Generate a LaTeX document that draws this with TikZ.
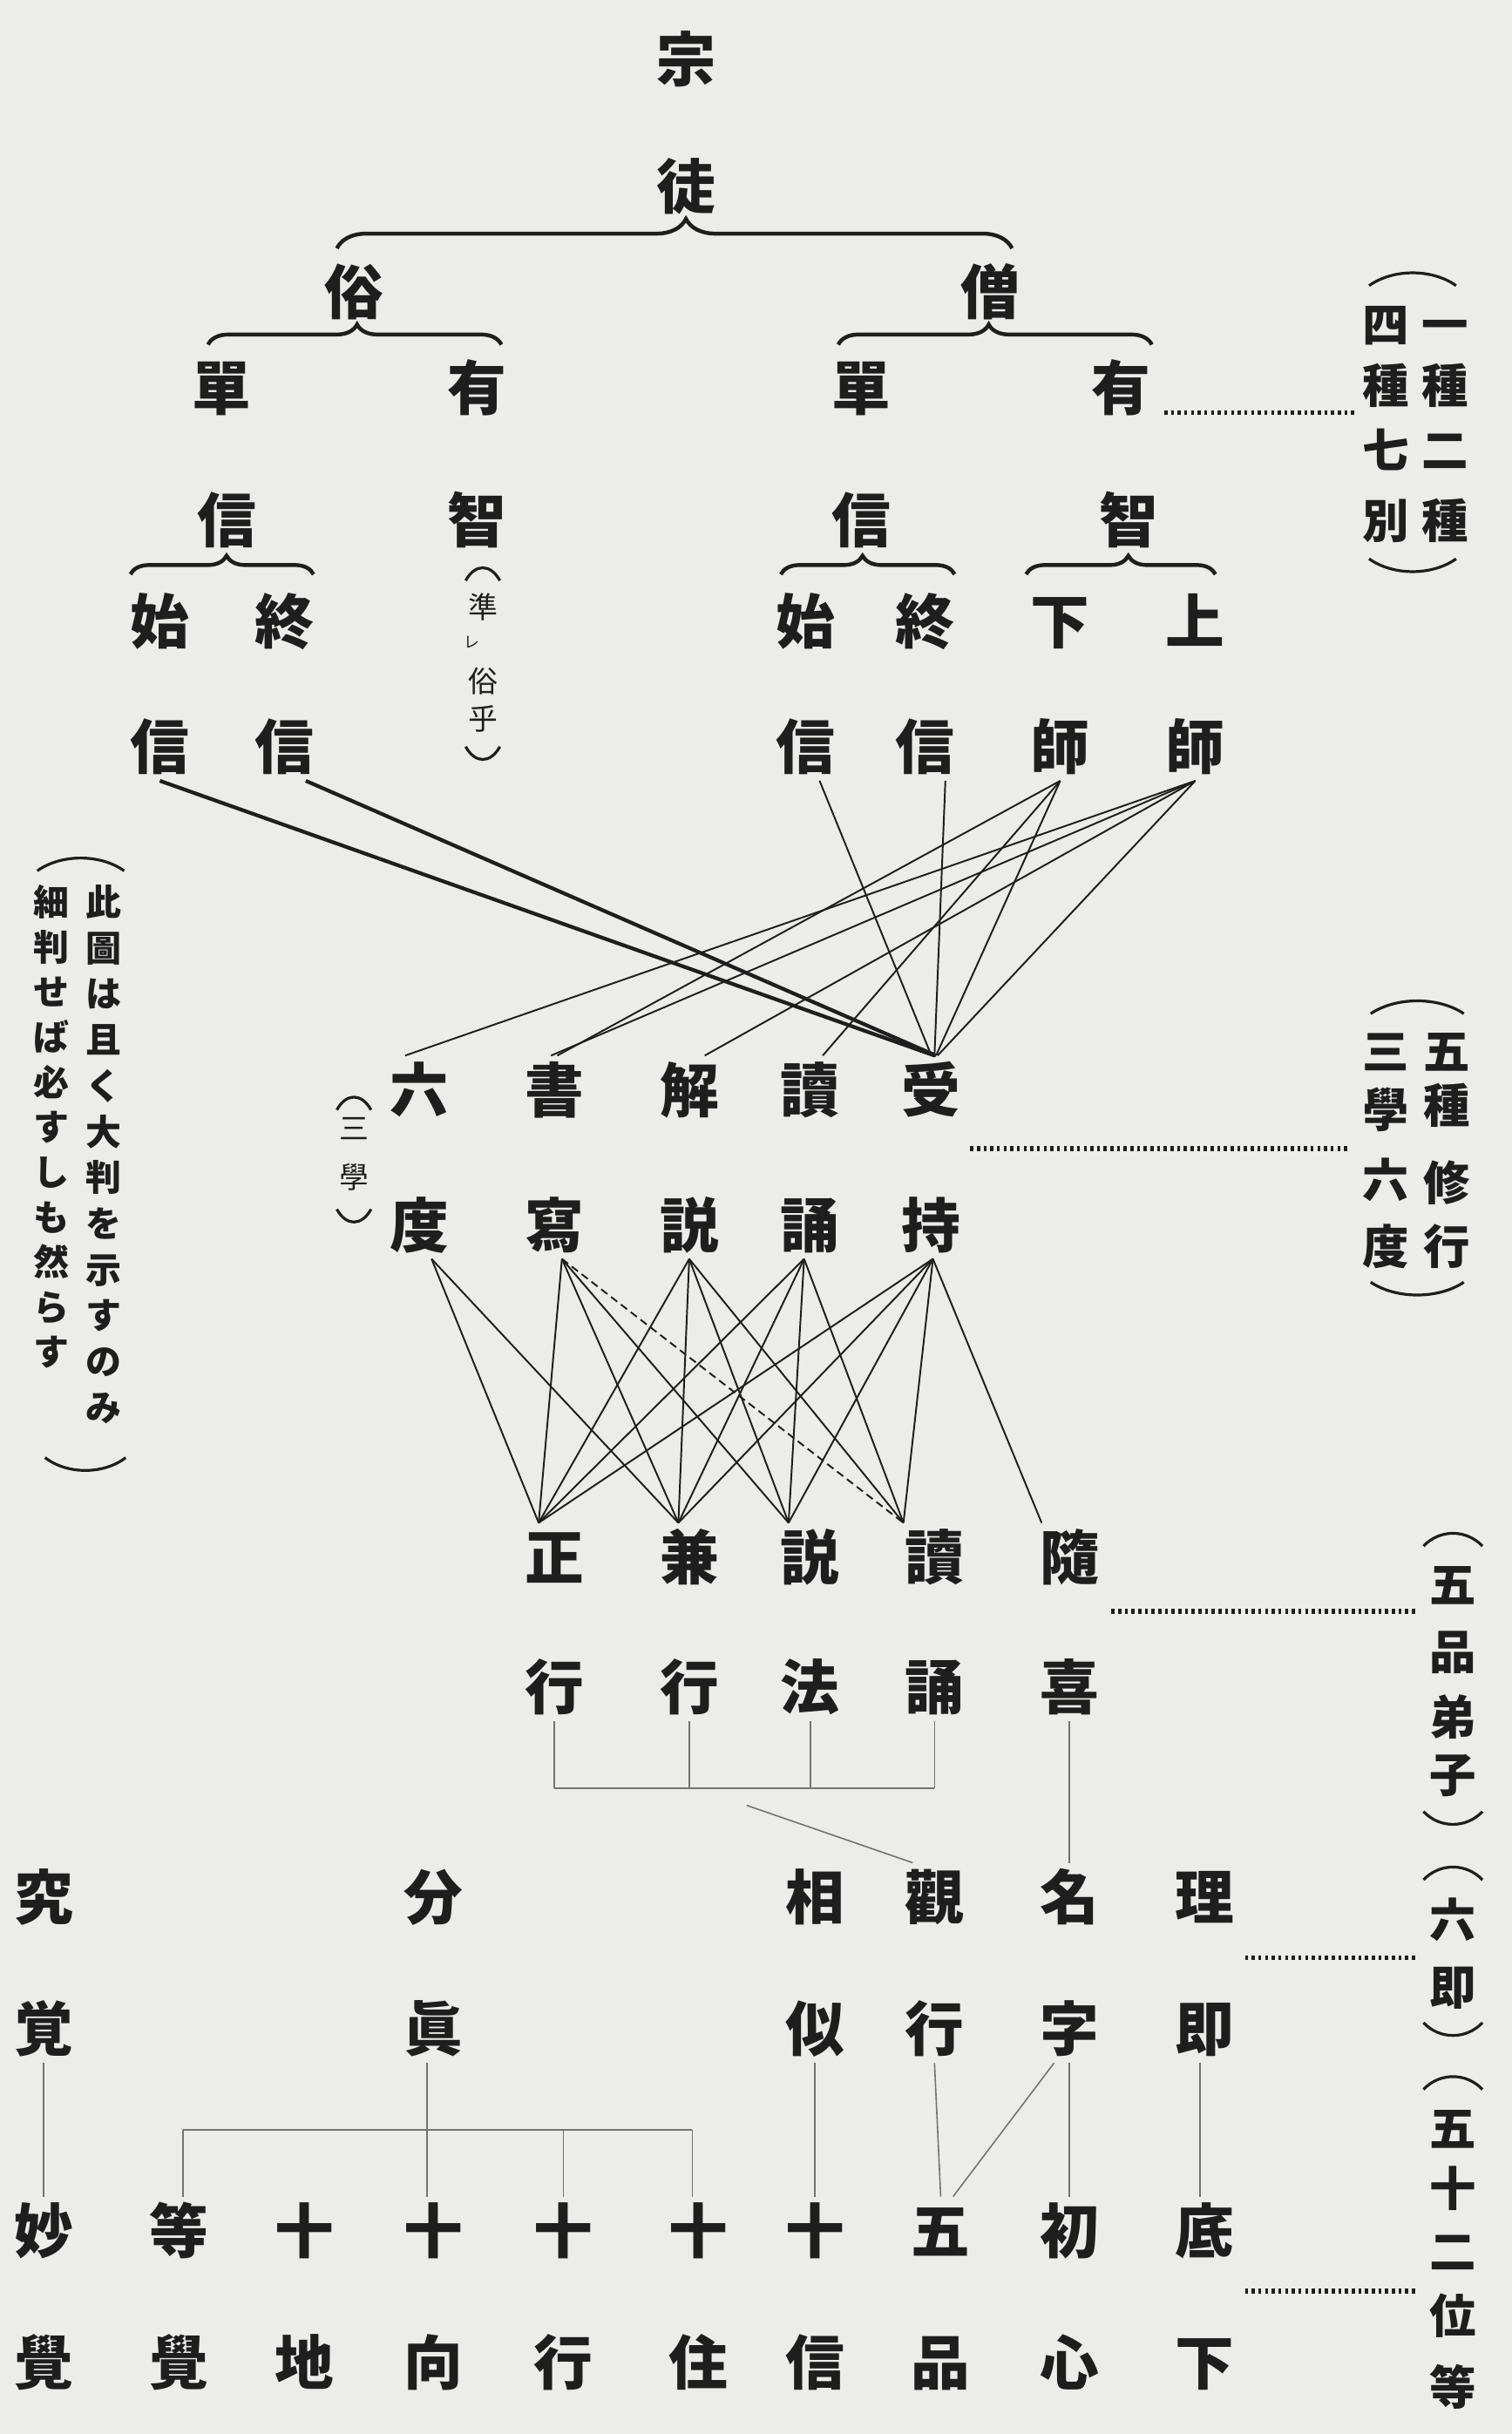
\documentclass[tikz,border=0pt]{standalone}
\usepackage{fontspec}
\newfontfamily\jp{Noto Sans CJK JP}
\usetikzlibrary{decorations.pathreplacing}
\definecolor{paper}{RGB}{236,236,234}
\definecolor{ink}{RGB}{30,30,30}
\definecolor{faint}{RGB}{115,115,115}
\newcommand\myparU[3]{\draw[paren] ({#1-#3},{#2+8}) .. controls ({#1-0.45*#3},{#2-3}) and ({#1+0.45*#3},{#2-3}) .. ({#1+#3},{#2+8});}
\newcommand\myparD[3]{\draw[paren] ({#1-#3},{#2-8}) .. controls ({#1-0.45*#3},{#2+3}) and ({#1+0.45*#3},{#2+3}) .. ({#1+#3},{#2-8});}
\begin{document}
\begin{tikzpicture}[x=1pt,y=-1pt,
  glyph/.style={text=ink, inner sep=0pt, outer sep=3pt},
  ch/.style={glyph, font=\jp\bfseries\fontsize{38}{38}\selectfont, text height=33.4pt, text depth=4.6pt},
  lab/.style={glyph, font=\jp\bfseries\fontsize{30}{30}\selectfont, text height=26.4pt, text depth=3.6pt},
  note/.style={glyph, font=\jp\bfseries\fontsize{23}{23}\selectfont, text height=20.2pt, text depth=2.8pt},
  tiny/.style={glyph, font=\jp\fontsize{19}{19}\selectfont, text height=16.7pt, text depth=2.3pt},
  heavy/.style={draw=ink, line width=2.4pt},
  link/.style={draw=ink, line width=1.1pt},
  dlink/.style={link, dash pattern=on 5pt off 3pt},
  thin/.style={draw=faint, line width=0.9pt},
  dots/.style={draw=ink, line width=3pt, dash pattern=on 2pt off 2.3pt},
  paren/.style={draw=ink, line width=1.8pt},
  brc/.style={draw=ink, line width=2.5pt, decorate},
]
\fill[paper] (0,0) rectangle (974,1568);
\useasboundingbox (0,0) rectangle (974,1568);

% ---------- top tree ----------
\node[ch] (zong) at (442,38) {宗};
\node[ch] (tu) at (442,120) {徒};
\node[ch] (zoku) at (228,188) {俗};
\node[ch] (sou) at (638,188) {僧};
\foreach \c/\x [count=\i] in {單/143,有/307,單/555,有/722} \node[ch] (d\i) at (\x,250) {\c};
\foreach \c/\x [count=\i] in {信/146,智/307,信/555,智/727} \node[ch] (e\i) at (\x,335) {\c};
\foreach \c/\x [count=\i] in {始/103,終/183,始/519,終/596,下/683,上/770} \node[ch] (f\i) at (\x,400) {\c};
\foreach \c/\x [count=\i] in {信/103,信/183,信/519,信/596,師/683,師/770} \node[ch] (g\i) at (\x,481) {\c};

% braces
\draw[brc, decoration={brace, amplitude=19pt, aspect=0.517}] (217,160) -- (652,160);
\draw[brc, decoration={brace, amplitude=13pt, aspect=0.508}] (134,222) -- (323,222);
\draw[brc, decoration={brace, amplitude=13pt, aspect=0.48}] (540,222) -- (742,222);
\draw[brc, decoration={brace, amplitude=12pt, aspect=0.525}] (84,370) -- (202,370);
\draw[brc, decoration={brace, amplitude=12pt, aspect=0.47}] (503,370) -- (615,370);
\draw[brc, decoration={brace, amplitude=12pt, aspect=0.54}] (661,370) -- (783,370);

% (準レ俗乎)
\myparU{311}{366}{11}
\node[tiny] (zh1) at (311,391) {準};
\node[glyph, font=\jp\fontsize{10}{10}\selectfont] (zh2) at (304,414) {レ};
\node[tiny] (zh3) at (311,439) {俗};
\node[tiny] (zh4) at (311,463) {乎};
\myparD{311}{489}{11}

% ---------- middle ----------
\foreach \c/\x [count=\i] in {六/270,書/357,解/444,讀/522,受/600} \node[ch] (h\i) at (\x,702) {\c};
\foreach \c/\x [count=\i] in {度/270,寫/357,説/444,誦/522,持/600} \node[ch] (i\i) at (\x,789) {\c};

% (三學)
\myparU{228}{707}{11}
\node[tiny] (sg1) at (228,727) {三};
\node[tiny] (sg2) at (228,758) {學};
\myparD{228}{787}{11}

% lines from upper rows to 受 etc
\draw[heavy] (g1.south) -- ([xshift=2pt]h5.north);
\draw[heavy] ([xshift=14pt]g2.south) -- ([xshift=3pt]h5.north);
\draw[link] ([xshift=9pt]g3.south) -- (h5.north);
\draw[link] ([xshift=13pt]g4.south) -- ([xshift=2pt]h5.north);
\draw[link] (g5.south) -- ([xshift=2pt]h2.north);
\draw[link] (g5.south) -- ([xshift=8pt]h4.north);
\draw[link] (g5.south) -- ([xshift=3pt]h5.north);
\draw[link] (g6.south) -- ([xshift=-9pt]h1.north);
\draw[link] (g6.south) -- ([xshift=-2pt]h2.north);
\draw[link] (g6.south) -- ([xshift=10pt]h3.north);
\draw[link] (g6.south) -- ([xshift=4pt]h5.north);

% ---------- five kinds of disciples ----------
\foreach \c/\x [count=\i] in {正/357,兼/444,説/522,讀/602,隨/689} \node[ch] (j\i) at (\x,1003) {\c};
\foreach \c/\x [count=\i] in {行/357,行/444,法/522,誦/602,喜/689} \node[ch] (k\i) at (\x,1087) {\c};

\coordinate (ib1) at ([xshift=8pt]i1.south);
\coordinate (ib2) at ([xshift=5pt]i2.south);
\coordinate (ib3) at (i3.south);
\coordinate (ib4) at ([xshift=-4pt]i4.south);
\coordinate (ib5) at ([xshift=1pt]i5.south);
\coordinate (jt1) at ([xshift=-10pt]j1.north);
\coordinate (jt2) at ([xshift=-7pt]j2.north);
\coordinate (jt3) at ([xshift=-14pt]j3.north);
\coordinate (jt4) at ([xshift=-20pt]j4.north);
\coordinate (jt5) at ([xshift=-18pt]j5.north);

\draw[link] (ib1) -- (jt1);
\draw[link] (ib1) -- (jt2);
\draw[link] (ib2) -- (jt1);
\draw[link] (ib2) -- (jt2);
\draw[link] (ib2) -- (jt3);
\draw[dlink] (ib2) -- (jt4);
\draw[link] (ib3) -- (jt1);
\draw[link] (ib3) -- (jt2);
\draw[link] (ib3) -- (jt3);
\draw[link] (ib3) -- (jt4);
\draw[link] (ib4) -- (jt1);
\draw[link] (ib4) -- (jt2);
\draw[link] (ib4) -- (jt3);
\draw[link] (ib4) -- (jt4);
\draw[link] (ib5) -- (jt1);
\draw[link] (ib5) -- (jt2);
\draw[link] (ib5) -- (jt3);
\draw[link] (ib5) -- (jt4);
\draw[link] (ib5) -- (jt5);

% ---------- six identities ----------
\foreach \c/\x [count=\i] in {究/28,分/279,相/525,觀/602,名/689,理/776} \node[ch] (l\i) at (\x,1222) {\c};
\foreach \c/\x [count=\i] in {覚/28,眞/279,似/525,行/602,字/689,即/776} \node[ch] (m\i) at (\x,1307) {\c};

% ---------- fifty-two stages ----------
\foreach \c/\x [count=\i] in {妙/28,等/115,十/196,十/279,十/363,十/450,十/525,五/606,初/689,底/776} \node[ch] (n\i) at (\x,1437) {\c};
\foreach \c/\x [count=\i] in {覺/28,覺/115,地/196,向/279,行/363,住/450,信/525,品/606,心/689,下/776} \node[ch] (o\i) at (\x,1522) {\c};

% thin connectors below
\coordinate (ga1) at (357,1152);
\coordinate (ga4) at (602,1152);
\coordinate (gmid) at (481,1163);
\draw[thin] (k1.south) -- (ga1);
\draw[thin] (k2.south) -- (k2.south |- ga1);
\draw[thin] (k3.south) -- (k3.south |- ga1);
\draw[thin] (k4.south) -- (ga4);
\draw[thin] (ga1) -- (ga4);
\draw[thin] (gmid) -- ([xshift=-14pt]l4.north);
\draw[thin] (k5.south) -- (l5.north);

\coordinate (gb0) at (118,1372);
\coordinate (gb1) at (446,1372);
\draw[thin] (m1.south) -- (n1.north);
\draw[thin] ([xshift=-4pt]m2.south) -- ([xshift=-4pt]n4.north);
\draw[thin] (gb0) -- (gb1);
\draw[thin] (gb0) -- (gb0 |- n2.north);
\draw[thin] (n5.north |- gb0) -- (n5.north);
\draw[thin] (gb1) -- (gb1 |- n6.north);
\draw[thin] (m3.south) -- (n7.north);
\draw[thin] (m4.south) -- (n8.north);
\draw[thin] ([xshift=-10pt]m5.south) -- ([xshift=8pt]n8.north);
\draw[thin] (m5.south) -- (n9.north);
\draw[thin] ([xshift=-3pt]m6.south) -- ([xshift=-3pt]n10.north);

% ---------- dotted leaders ----------
\coordinate (dA1) at (750,266); \coordinate (dA2) at (873,266);
\coordinate (dB1) at (625,740); \coordinate (dB2) at (870,740);
\coordinate (dC1) at (716,1038); \coordinate (dC2) at (912,1038);
\coordinate (dD1) at (802,1261); \coordinate (dD2) at (912,1261);
\coordinate (dE1) at (802,1476); \coordinate (dE2) at (912,1476);
\draw[dots] (dA1) -- (dA2);
\draw[dots] (dB1) -- (dB2);
\draw[dots] (dC1) -- (dC2);
\draw[dots] (dD1) -- (dD2);
\draw[dots] (dE1) -- (dE2);

% ---------- right labels ----------
\myparU{910}{176}{28}
\foreach \c/\y [count=\i] in {一/209,種/248,二/290,種/335} \node[lab] (ra\i) at (931,\y) {\c};
\foreach \c/\y [count=\i] in {四/209,種/248,七/290,別/335} \node[lab] (rb\i) at (893,\y) {\c};
\myparD{910}{368}{28}

\myparU{913}{645}{30}
\foreach \c/\y [count=\i] in {五/677,種/712,修/762,行/803} \node[lab] (rc\i) at (932,\y) {\c};
\foreach \c/\y [count=\i] in {三/677,學/715,六/760,度/803} \node[lab] (rd\i) at (893,\y) {\c};
\myparD{913}{834}{30}

\myparU{936}{988}{19}
\foreach \c/\y [count=\i] in {五/1021,品/1064,弟/1106,子/1143} \node[lab] (re\i) at (936,\y) {\c};
\myparD{936}{1175}{19}
\myparU{936}{1203}{19}
\foreach \c/\y [count=\i] in {六/1237,即/1280} \node[lab] (rf\i) at (936,\y) {\c};
\myparD{936}{1311}{19}
\myparU{936}{1338}{19}
\foreach \c/\y [count=\i] in {五/1371,十/1410,二/1450,位/1492,等/1538} \node[lab] (rg\i) at (936,\y) {\c};

% ---------- left note ----------
\myparU{52}{553}{28}
\foreach \c/\y [count=\i] in {此/581,圖/610.6,は/640.2,且/669.8,く/699.4,大/729,判/758.6,を/788.2,示/817.8,す/847.4,の/877,み/906.6} \node[note] (na\i) at (67,\y) {\c};
\foreach \c/\y [count=\i] in {細/581,判/610,せ/639,ば/668,必/697,す/726,し/755,も/784,然/813,ら/842,す/871} \node[note] (nb\i) at (33,\y) {\c};
\myparD{55}{947}{26}

\end{tikzpicture}
\end{document}
